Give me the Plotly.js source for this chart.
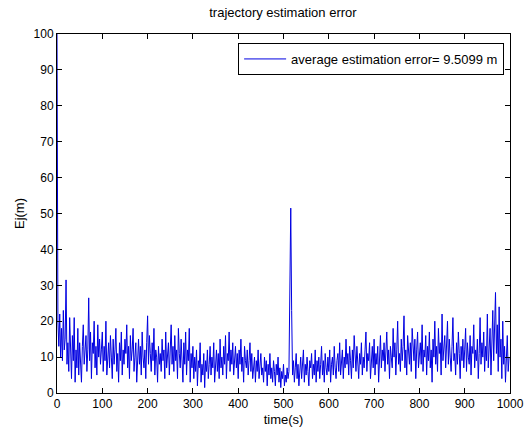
<!DOCTYPE html>
<html>
<head>
<meta charset="utf-8">
<script src="https://cdn.plot.ly/plotly-3.0.1.min.js"></script>
<style>html,body{margin:0;padding:0;background:#fff;}#chart{width:524px;height:427px;}</style>
</head>
<body>
<div id="chart"></div>
<script>
// time axis of the samples (s)
const timeStart = 0;
const timeStep = 2;
// estimation error Ej (m)
const errorValues = [
  100, 20, 13, 22, 10, 18, 9, 23, 12, 15,
  31.5, 8, 14, 6, 21, 11, 4, 16, 9, 21,
  3, 12, 7, 18, 5, 14, 10, 3, 13, 19,
  8, 11, 16, 6, 12, 26.5, 9, 17, 4, 14,
  11, 20, 7, 13, 5, 19, 10, 15, 8, 12,
  17, 6, 13, 9, 20, 5, 11, 14, 7, 16,
  10, 4, 15, 8, 12, 18, 6, 11, 3, 14,
  9, 17, 5, 12, 8, 15, 11, 19, 7, 13,
  4, 16, 9, 12, 18, 6, 10, 14, 3, 11,
  15, 8, 13, 5, 17, 10, 7, 12, 4, 14,
  21.5, 8, 16, 11, 6, 14, 9, 18, 5, 12,
  10, 3, 13, 8, 11, 6, 15, 9, 12, 4,
  17, 7, 11, 14, 5, 10, 19, 8, 13, 6,
  16, 9, 12, 4, 18, 11, 7, 15, 10, 3,
  14, 8, 17, 5, 12, 9, 18, 3, 11, 7,
  13, 4, 10, 6, 12, 2, 9, 7, 14, 3,
  8, 5, 11, 1.5, 9, 6, 12, 4, 8, 13,
  5, 10, 7, 14, 3, 9, 12, 6, 11, 4,
  15, 7, 10, 5, 13, 8, 16, 4, 11, 9,
  17, 6, 12, 8, 14, 5, 10, 13, 7, 11,
  4, 12, 8, 15, 6, 10, 3, 13, 9, 7,
  12, 5, 9, 14, 6, 11, 4, 8, 10, 3,
  9, 6, 12, 4, 8, 11, 5, 7, 3, 10,
  6, 9, 2, 8, 5, 11, 4, 7, 3, 9,
  6, 2, 8, 5, 10, 3, 7, 1.5, 6, 4,
  8, 2, 5, 3, 7, 4, 6, 42.5, 51.5, 23,
  5, 9, 3, 7, 11, 4, 8, 2, 6, 10,
  4, 7, 12, 3, 8, 5, 10, 6, 2, 9,
  7, 11, 4, 8, 5, 12, 3, 9, 6, 10,
  4, 8, 13, 5, 9, 3, 11, 7, 5, 10,
  6, 12, 3, 8, 10, 5, 13, 7, 4, 9,
  11, 6, 14, 5, 9, 12, 4, 10, 7, 15,
  8, 11, 5, 13, 9, 4, 12, 7, 16, 10,
  6, 13, 9, 4, 11, 8, 14, 5, 10, 7,
  12, 17, 6, 11, 9, 14, 4, 10, 13, 7,
  15, 5, 11, 8, 13, 3, 10, 16, 7, 12,
  9, 14, 6, 11, 17, 8, 12, 4, 13, 10,
  7, 18, 10, 14, 5, 12, 20, 8, 11, 6,
  15, 9, 13, 21.5, 7, 12, 5, 16, 10, 8,
  14, 6, 18, 11, 9, 15, 4, 12, 17, 7,
  11, 14, 8, 19, 6, 12, 10, 16, 5, 13,
  9, 17, 7, 12, 3, 15, 10, 20, 8, 13,
  6, 18, 11, 14, 5, 22, 9, 13, 16, 7,
  12, 20, 8, 15, 10, 6, 13, 21, 9, 11,
  5, 14, 8, 17, 11, 4, 13, 9, 15, 7,
  12, 18, 6, 14, 10, 8, 16, 5, 13, 11,
  19, 7, 12, 9, 15, 4, 11, 21, 8, 14,
  10, 17, 6, 13, 9, 22, 7, 12, 18, 5,
  14, 23, 9, 16, 28, 11, 19, 6, 24, 10,
  15, 4, 20, 8, 13, 3, 11, 16, 6, 10
];
const legendLabel = 'average estimation error= 9.5099 m';
const chartTitle = 'trajectory estimation error';
const xLabel = 'time(s)';
const yLabel = 'Ej(m)';

const fontFam = '"Liberation Sans", Arial, Helvetica, sans-serif';

const trace = {
  type: 'scatter',
  mode: 'lines',
  y: errorValues,
  x0: timeStart,
  dx: timeStep,
  name: legendLabel,
  line: {color: 'rgb(0,0,225)', width: 1},
  showlegend: true
};

const axisCommon = {
  showline: true,
  linecolor: '#000',
  linewidth: 1,
  mirror: 'ticks',
  ticks: 'inside',
  ticklen: 5,
  tickcolor: '#000',
  showgrid: false,
  zeroline: false,
  tickfont: {family: fontFam, size: 12, color: '#000'}
};

const layout = {
  width: 524,
  height: 427,
  margin: {l: 57, r: 14, t: 34, b: 34},
  paper_bgcolor: '#fff',
  plot_bgcolor: '#fff',
  font: {family: fontFam, size: 12, color: '#000'},
  title: {text: chartTitle, font: {family: fontFam, size: 13, color: '#000'}, x: 0.54, xanchor: 'center', y: 0.972, yanchor: 'middle'},
  xaxis: Object.assign({}, axisCommon, {
    range: [0, 1000], dtick: 100, tick0: 0,
    title: {text: xLabel, font: {family: fontFam, size: 13, color: '#000'}, standoff: 13}
  }),
  yaxis: Object.assign({}, axisCommon, {
    range: [0, 100], dtick: 10, tick0: 0,
    title: {text: yLabel, font: {family: fontFam, size: 13, color: '#000'}, standoff: 6}
  }),
  showlegend: true,
  legend: {
    x: 0.987, xanchor: 'right',
    y: 0.975, yanchor: 'top',
    bgcolor: '#fff',
    bordercolor: '#000',
    borderwidth: 1,
    font: {family: fontFam, size: 13, color: '#000'},
    itemwidth: 42
  }
};

Plotly.newPlot('chart', [trace], layout, {staticPlot: true, displayModeBar: false});
</script>
</body>
</html>
